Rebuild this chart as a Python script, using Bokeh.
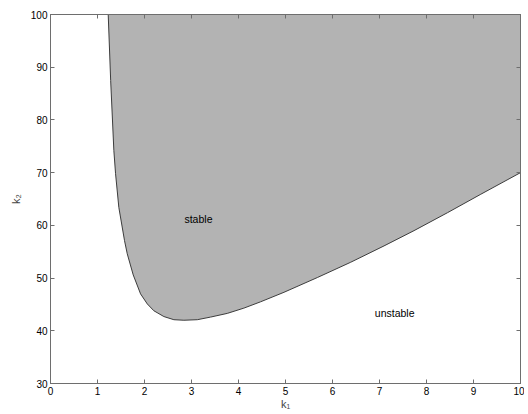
from bokeh.plotting import figure
from bokeh.models import LinearAxis, FixedTicker, Range1d, ColumnDataSource
from bokeh.embed import file_html
from bokeh.resources import INLINE
from bokeh.core.properties import value

# Axis ranges and ticks
k1_range = (0, 10)
k2_range = (30, 100)
x_ticks = [0, 1, 2, 3, 4, 5, 6, 7, 8, 9, 10]
y_ticks = [30, 40, 50, 60, 70, 80, 90, 100]

# Stability boundary: lower edge of the stable region
boundary_k1 = [1.228, 1.28, 1.348, 1.384, 1.454, 1.575, 1.633, 1.76, 1.916,
               2.059, 2.199, 2.412, 2.625, 2.838, 3.123, 3.406, 3.762, 4.115,
               4.471, 4.967, 5.678, 6.387, 7.096, 7.735, 8.446, 9.155, 10.0]
boundary_k2 = [100.0, 87.5, 74.2, 69.8, 63.4, 57.1, 54.6, 50.6, 47.0,
               45.1, 43.8, 42.7, 42.1, 42.0, 42.1, 42.6, 43.3, 44.3,
               45.5, 47.3, 50.1, 53.0, 56.1, 59.0, 62.4, 65.9, 70.0]
top_k2 = [k2_range[1]] * len(boundary_k1)

# Region labels
label_text = ["stable", "unstable"]
label_k1 = [2.85, 6.9]
label_k2 = [61.2, 43.3]

FONT = "Liberation Sans"
AXIS_COLOR = "#6e6e6e"

p = figure(width=524, height=412,
           x_range=Range1d(*k1_range), y_range=Range1d(*k2_range),
           output_backend="svg", toolbar_location=None,
           min_border_left=50, min_border_right=4, min_border_top=14,
           min_border_bottom=29)
p.background_fill_color = "white"
p.border_fill_color = "white"
p.outline_line_color = AXIS_COLOR
p.xgrid.visible = False
p.ygrid.visible = False

src = ColumnDataSource(dict(k1=boundary_k1, k2=boundary_k2, top=top_k2))
p.varea(x="k1", y1="k2", y2="top", source=src, fill_color="#b3b3b3")
p.line(x="k1", y="k2", source=src, line_color="#3c3c3c", line_width=1)

p.text(x=label_k1, y=label_k2, text=label_text,
       text_font=value(FONT), text_font_size="10.5px",
       text_align="left", text_baseline="middle", text_color="black")


def style_axis(ax, ticks, show_labels):
    ax.ticker = FixedTicker(ticks=ticks)
    ax.axis_line_color = AXIS_COLOR
    ax.major_tick_line_color = AXIS_COLOR
    ax.major_tick_in = 4
    ax.major_tick_out = 0
    ax.minor_tick_line_color = None
    ax.major_label_text_font = FONT
    ax.major_label_text_font_size = "10px"
    ax.major_label_text_color = "black"
    if not show_labels:
        ax.major_label_overrides = {t: "" for t in ticks}
        ax.major_label_standoff = 0


xa = p.xaxis[0]
style_axis(xa, x_ticks, True)
xa.major_label_standoff = 3
xa.axis_label = "k\u2081"
xa.axis_label_text_font = FONT
xa.axis_label_text_font_size = "11px"
xa.axis_label_text_font_style = "normal"
xa.axis_label_standoff = 0

ya = p.yaxis[0]
style_axis(ya, y_ticks, True)
ya.major_label_standoff = 3
ya.axis_label = "k\u2082"
ya.axis_label_text_font = FONT
ya.axis_label_text_font_size = "11px"
ya.axis_label_text_font_style = "normal"
ya.axis_label_standoff = 6

top_ax = LinearAxis()
style_axis(top_ax, x_ticks, False)
p.add_layout(top_ax, "above")

right_ax = LinearAxis()
style_axis(right_ax, y_ticks, False)
p.add_layout(right_ax, "right")

open("out.html", "w").write(file_html(p, INLINE))
